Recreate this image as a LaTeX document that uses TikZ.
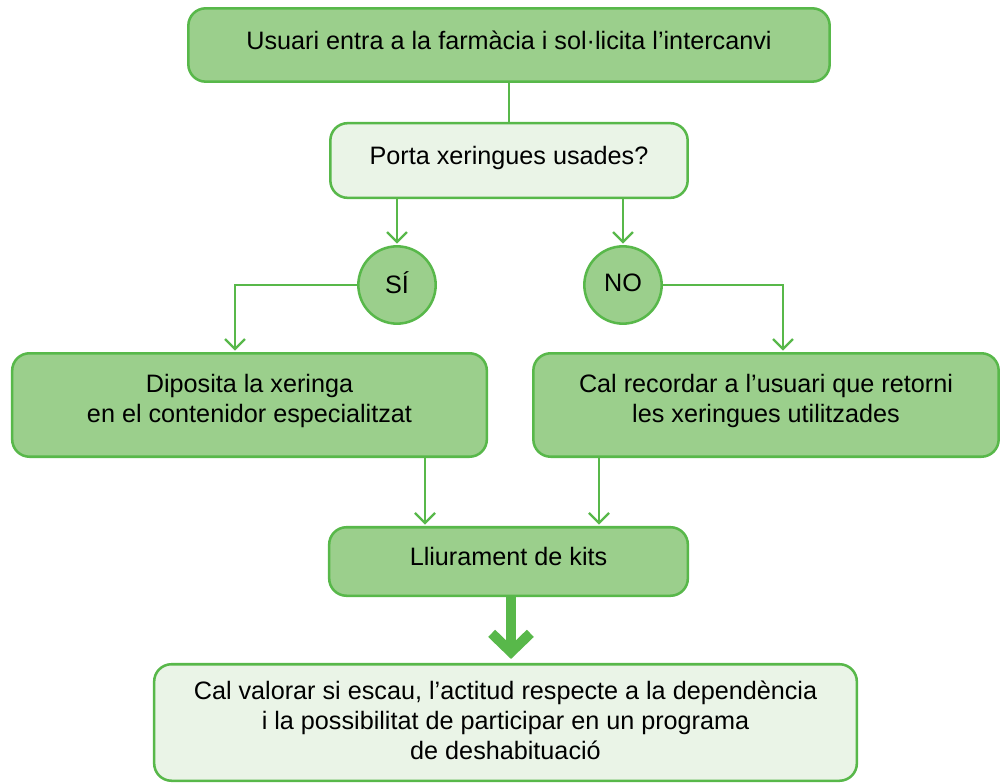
\documentclass[tikz,border=0pt]{standalone}
\usepackage{fontspec}
\setmainfont{Liberation Sans}
\usetikzlibrary{arrows.meta,calc}
\definecolor{gborder}{RGB}{88,184,74}
\definecolor{gfill}{RGB}{155,207,140}
\definecolor{glight}{RGB}{234,244,231}
\newcommand\liftby[2]{\raisebox{#1}[\height][\depth]{#2}}
\newcommand\twolines[1]{\begin{tabular}{@{}c@{}}#1\end{tabular}}
\begin{document}
\begin{tikzpicture}[x=0.75pt,y=-0.75pt,
  font=\fontsize{18.9pt}{22.5pt}\selectfont,
  box/.style={draw=gborder, line width=1.9pt, rounded corners=13pt, inner sep=0pt, text=black},
  darkbox/.style={box, fill=gfill},
  lightbox/.style={box, fill=glight},
  circ/.style={circle, draw=gborder, line width=1.9pt, fill=gfill, minimum size=58pt, inner sep=0pt},
  link/.style={draw=gborder, line width=1.75pt, -{Straight Barb[length=7.5pt,width=15pt]}, shorten >=1pt},
  joinline/.style={draw=gborder, line width=1.75pt},
  bigarrow/.style={draw=gborder, line width=7.5pt, -{Straight Barb[length=14pt,width=29pt]}, shorten >=3pt}]
\useasboundingbox (0,0) rectangle (1003,784);
\fill[white] (0,0) rectangle (1003,784);

\node[darkbox, minimum width=481pt, minimum height=55pt] (top) at (509,45)
  {\liftby{3.75pt}{Usuari entra a la farmàcia i sol·licita l’intercanvi}};
\node[lightbox, minimum width=268pt, minimum height=56pt] (q) at (509,160.5)
  {\liftby{1.9pt}{Porta xeringues usades?}};
\node[circ] (si) at (397,285) {\liftby{2pt}{SÍ}};
\node[circ] (no) at (623,285) {\liftby{2pt}{NO}};
\node[darkbox, minimum width=356pt, minimum height=77.6pt] (L) at (249.5,405)
  {\liftby{3pt}{\twolines{Diposita la xeringa\\en el contenidor especialitzat}}};
\node[darkbox, minimum width=349pt, minimum height=77.6pt] (R) at (766,405)
  {\liftby{3pt}{\twolines{Cal recordar a l’usuari que retorni\\les xeringues utilitzades}}};
\node[darkbox, minimum width=269pt, minimum height=51.4pt] (kits) at (508.5,561.5)
  {\liftby{3.4pt}{Lliurament de kits}};
\node[lightbox, minimum width=527pt, minimum height=87.4pt] (bot) at (505.5,722.5)
  {\liftby{-1pt}{\twolines{Cal valorar si escau, l’actitud respecte a la dependència\\i la possibilitat de participar en un programa\\de deshabituació}}};

\draw[joinline] (top.south) -- (q.north);
\draw[link] (q.south -| si.north) -- (si.north);
\draw[link] (q.south -| no.north) -- (no.north);
\coordinate (Ltop) at ($(L.north)+(-14.5,0)$);
\draw[link] (si.west) -| (Ltop);
\coordinate (Rtop) at ($(R.north)+(17,0)$);
\draw[link] (no.east) -| (Rtop);
\coordinate (Lout) at ($(L.south)+(175.5,0)$);
\draw[link] (Lout) -- (Lout |- kits.north);
\coordinate (Rout) at ($(R.south)+(-167,0)$);
\draw[link] (Rout) -- (Rout |- kits.north);
\coordinate (Kout) at ($(kits.south)+(2.5,0)$);
\draw[bigarrow] (Kout) -- (Kout |- bot.north);
\end{tikzpicture}
\end{document}
